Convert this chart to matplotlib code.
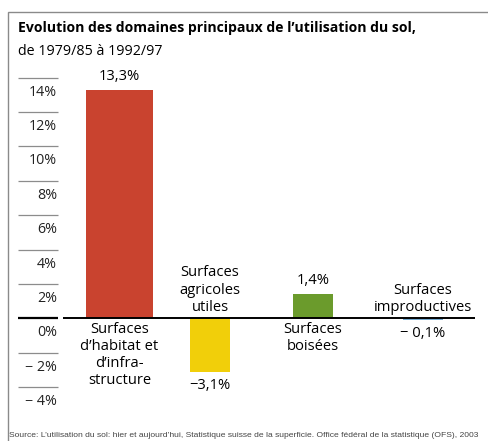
import matplotlib
matplotlib.use("Agg")
import matplotlib.pyplot as plt
from matplotlib.patches import Rectangle

categories = ["Surfaces\nd’habitat et\nd’infra-\nstructure",
              "Surfaces\nagricoles\nutiles",
              "Surfaces\nboisées",
              "Surfaces\nimproductives"]
values = [13.3, -3.1, 1.4, -0.1]
value_labels = ["13,3%", "−3,1%", "1,4%", "− 0,1%"]
ticks = [14, 12, 10, 8, 6, 4, 2, 0, -2, -4]
tick_labels = ["14%", "12%", "10%", "8%", "6%", "4%", "2%", "0%", "− 2%", "− 4%"]
colors = ["#c9432f", "#f1cf0a", "#6b9b2c", "#74a9cf"]

# layout (pixels within axes)
positions = [101.5, 192, 295, 405]
widths = [67, 40, 40, 40]

W, H = 489, 441
fig = plt.figure(figsize=(W / 100, H / 100), dpi=100)
fig.patch.set_facecolor("white")
font = "Open Sans"

# frame
fig.add_artist(Rectangle((8 / W, -0.05), 1.0, (H - 12) / H + 0.05,
                         transform=fig.transFigure, fill=False,
                         edgecolor="#8a8a8a", lw=1.0))

fig.text(18 / W, 1 - 32 / H, "Evolution des domaines principaux de l’utilisation du sol,",
         fontsize=10.1, fontweight="bold", family=font, va="baseline", ha="left")
fig.text(18 / W, 1 - 55 / H, "de 1979/85 à 1992/97",
         fontsize=10.3, family=font, va="baseline", ha="left")
fig.text(9 / W, 1 - 437 / H,
         "Source: L’utilisation du sol: hier et aujourd’hui, Statistique suisse de la superficie. "
         "Office fédéral de la statistique (OFS), 2003",
         fontsize=6.1, family="Liberation Sans", color="#444444", va="baseline", ha="left")

ax = fig.add_axes([18 / W, 41 / H, 462 / W, 330 / H])
ax.set_xlim(0, 462)
ax.set_ylim(-4.75, 14.44)
ax.axis("off")

ax.bar(positions, values, width=widths, color=colors, zorder=2)

# tick lines + labels
for t, lab in zip(ticks, tick_labels):
    ax.hlines(t, 0, 40, color="black" if t == 0 else "#8c8c8c",
              lw=1.6 if t == 0 else 0.9)
    ax.text(39, t - 0.85, lab, ha="right", va="center", fontsize=10.3,
            family=font, color="#222222")

ax.hlines(0, 45, 457, color="black", lw=1.4, zorder=3)

fs = 10.6
# value labels
for x, v, lab in zip(positions, values, value_labels):
    if v >= 0:
        ax.text(x, v + 0.35, lab, ha="center", va="bottom", fontsize=fs, family=font)
    else:
        ax.text(x, v - 0.35, lab, ha="center", va="top", fontsize=fs, family=font)

# category labels
for x, v, cat in zip(positions, values, categories):
    if v >= 0:
        ax.text(x, -0.2, cat, ha="center", va="top", fontsize=fs, family=font,
                linespacing=1.2)
    else:
        ax.text(x, 0.2, cat, ha="center", va="bottom", fontsize=fs, family=font,
                linespacing=1.2)

fig.savefig("out.png", dpi=100)
